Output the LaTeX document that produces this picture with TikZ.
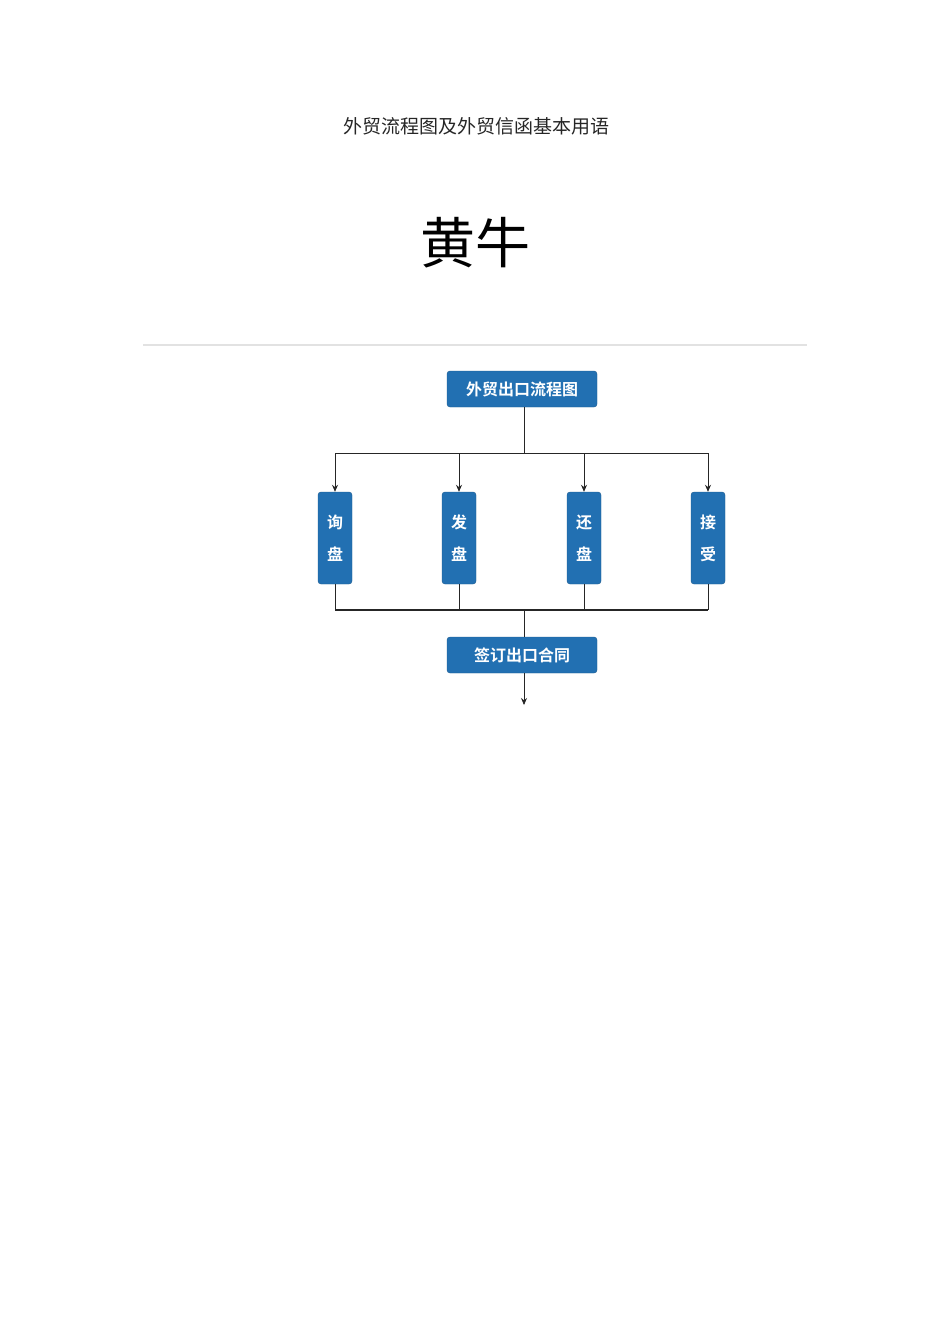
\documentclass[tikz,border=0pt]{standalone}
\usepackage{fontspec}
\setmainfont{Noto Sans CJK SC}
\newfontfamily\cjkbold{Noto Sans CJK SC Bold}
\usetikzlibrary{arrows.meta,positioning}
\definecolor{flowblue}{HTML}{2270B2}
\definecolor{rulegray}{HTML}{E2E2E2}

\begin{document}
\begin{tikzpicture}[
  x=1pt,y=-1pt,
  hbox/.style={draw=flowblue!80!black,fill=flowblue,rounded corners=3pt,text=white,
    minimum width=150pt,minimum height=36pt,inner sep=0pt,font=\cjkbold\fontsize{16}{16}\selectfont},
  vbox/.style={draw=flowblue!80!black,fill=flowblue,rounded corners=3pt,text=white,align=center,
    minimum width=34pt,minimum height=92pt,inner sep=0pt,font=\cjkbold\fontsize{16}{32}\selectfont},
  arr/.style={-{Stealth[length=7pt,width=6pt]},thick,black!85},
  ln/.style={thick,black!85},
]
\useasboundingbox (0,0) rectangle (950,1344);
% headings
\node[font=\fontsize{19}{19}\selectfont,text=black!85] (title) at (476,126) {外贸流程图及外贸信函基本用语};
\node[font=\fontsize{55}{55}\selectfont] (name) at (475,243) {黄牛};
\coordinate (ruleL) at (143,345); \coordinate (ruleR) at (807,345);
\draw[rulegray,line width=1.2pt] (ruleL)--(ruleR);
% boxes
\node[hbox] (start) at (522,389) {外贸出口流程图};
\node[vbox] (xun) at (335,538) {询\\盘};
\node[vbox] (fa) at (459,538) {发\\盘};
\node[vbox] (huan) at (584,538) {还\\盘};
\node[vbox] (jie) at (708,538) {接\\受};
\node[hbox] (sign) at (522,655) {签订出口合同};
% branch points
\coordinate (top) at (524,453); \coordinate (bot) at (524,610);
\coordinate (next) at (524,705);
% arrows
\draw[ln] (start.south-|top)--(top);
\foreach \b in {xun,fa,huan,jie}{
  \draw[arr] (top-|\b.north)--(\b.north);
  \draw[ln] (\b.south)--(bot-|\b.south);
}
\draw[ln] (top-|xun.north)--(top-|jie.north);
\draw[ln,line width=1.6pt] (bot-|xun.south)--(bot-|jie.south);
\draw[ln] (bot)--(sign.north-|bot);
\draw[arr] (sign.south-|next)--(next);
\end{tikzpicture}
\end{document}
